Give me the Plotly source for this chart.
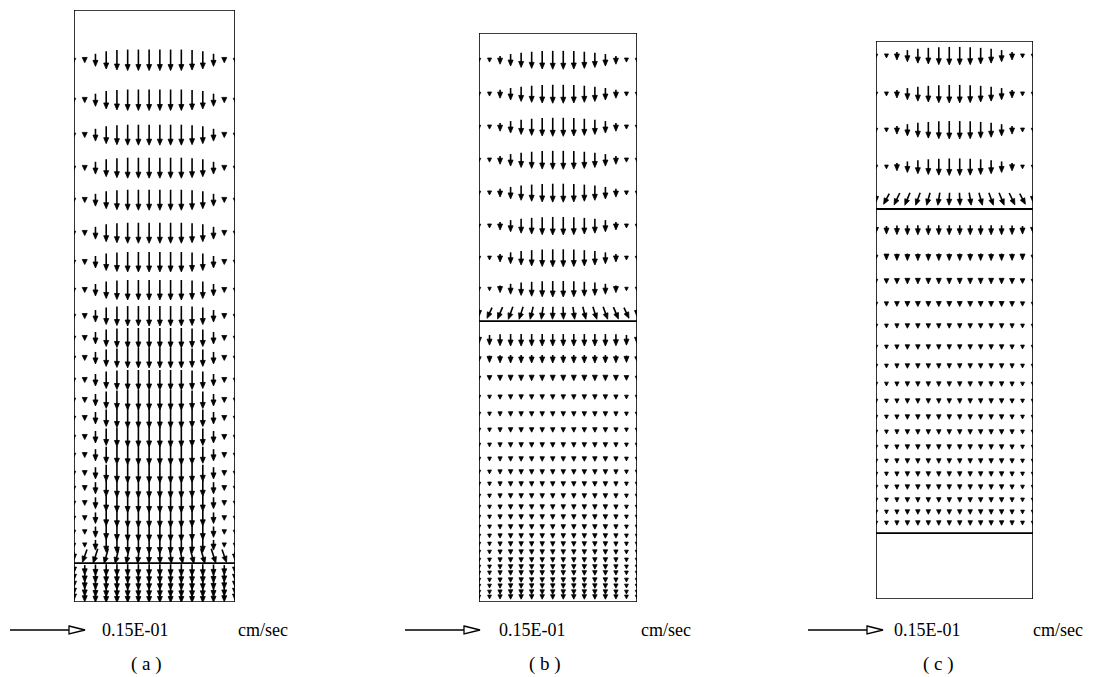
import math
import plotly.graph_objects as go

# ---------------- data ----------------
REF_SPEED = 0.015          # cm/sec of the reference arrow
REF_LABEL = "0.15E-01"
UNIT_LABEL = "cm/sec"
PANEL_LABELS = ["( a )", "( b )", "( c )"]

# relative vertical speed across the 16 grid columns (wall, 14 interior, wall)
PROFILE_A = [0.15, 0.25, 0.6, 0.85, 0.95, 1.0, 1.0, 1.0, 1.0, 1.0, 1.0, 0.95, 0.85, 0.6, 0.25, 0.15]
PROFILE_BC = [0.15, 0.22, 0.45, 0.65, 0.8, 0.9, 0.97, 1.0, 1.0, 0.97, 0.9, 0.8, 0.65, 0.45, 0.22, 0.15]
PROFILE_FLAT = [0.55, 0.85, 0.95, 1.0, 1.0, 1.0, 1.0, 1.0, 1.0, 1.0, 1.0, 1.0, 1.0, 0.95, 0.85, 0.55]
# outward horizontal component used in the rows just above an interface
TILT_SHAPE = [0.0, -1.0, -1.0, -0.9, -0.8, -0.6, -0.35, -0.1, 0.1, 0.35, 0.6, 0.8, 0.9, 1.0, 1.0, 0.0]

# panel (a): heights in box-width units, centre speed (cm/s), tilt, profile
A_ROW_Y = [3.366, 3.118, 2.901, 2.696, 2.497, 2.292, 2.112, 1.938, 1.776, 1.640, 1.516, 1.379,
           1.255, 1.143, 1.025, 0.913, 0.801, 0.708, 0.615, 0.522, 0.435, 0.354, 0.286,
           0.199, 0.155, 0.112, 0.068, 0.031]
A_ROW_W = [0.0042, 0.0042, 0.0041, 0.0041, 0.0041, 0.0041, 0.0040, 0.0040, 0.0040, 0.0040, 0.0040, 0.0040,
           0.0040, 0.0040, 0.0040, 0.0039, 0.0039, 0.0039, 0.0038, 0.0037, 0.0036, 0.0034, 0.0030,
           0.0023, 0.0023, 0.0023, 0.0023, 0.0022]
A_ROW_TILT = [0, 0, 0, 0, 0, 0, 0, 0, 0, 0, 0, 0, 0, 0, 0, 0, 0, 0, 0, 0, 0, 0, 0.3,
              0, 0, 0, 0, 0]
A_ROW_PROF = ["a", "a", "a", "a", "a", "a", "a", "a", "a", "a", "a", "a", "a", "a", "a", "a", "a", "a",
              "a", "a", "a", "a", "flat", "flat", "flat", "flat", "flat", "flat"]
A_INTERFACES = [0.242]

# panel (b)
B_ROW_Y = [3.430, 3.215, 3.006, 2.797, 2.589, 2.380, 2.177, 1.981, 1.829,
           1.658, 1.538, 1.418, 1.297, 1.190, 1.089, 0.994, 0.905, 0.823, 0.747, 0.671, 0.601,
           0.538, 0.475, 0.418, 0.367, 0.316, 0.266, 0.222, 0.184, 0.139, 0.101, 0.063, 0.032]
B_ROW_W = [0.0037, 0.0037, 0.0037, 0.0037, 0.0037, 0.0036, 0.0035, 0.0032, 0.0025,
           0.0024, 0.0016, 0.0011, 0.0009, 0.0009, 0.0009, 0.0009, 0.0009, 0.0009, 0.0009, 0.0009, 0.0009,
           0.0009, 0.0009, 0.0009, 0.0009, 0.0009, 0.0009, 0.0009, 0.0009, 0.0009, 0.0009, 0.0009, 0.0009]
B_ROW_TILT = [0, 0, 0, 0, 0, 0, 0, 0, 0.4,
              0, 0, 0, 0, 0, 0, 0, 0, 0, 0, 0, 0, 0, 0, 0, 0, 0, 0, 0, 0, 0, 0, 0, 0]
B_ROW_PROF = ["bc", "bc", "bc", "bc", "bc", "bc", "bc", "bc", "flat",
              "flat", "flat", "flat", "flat", "flat", "flat", "flat", "flat", "flat", "flat", "flat", "flat",
              "flat", "flat", "flat", "flat", "flat", "flat", "flat", "flat", "flat", "flat", "flat", "flat"]
B_INTERFACES = [1.778]

# panel (c)
C_ROW_Y = [3.459, 3.217, 2.987, 2.752, 2.548,
           2.350, 2.178, 2.025, 1.879, 1.739, 1.605, 1.484, 1.369, 1.261, 1.159, 1.064, 0.968,
           0.879, 0.796, 0.713, 0.631, 0.554, 0.484]
C_ROW_W = [0.0036, 0.0036, 0.0036, 0.0034, 0.0025,
           0.0019, 0.0014, 0.0011, 0.0010, 0.0009, 0.0009, 0.0009, 0.0009, 0.0009, 0.0009, 0.0009, 0.0009,
           0.0009, 0.0009, 0.0009, 0.0009, 0.0009, 0.0009]
C_ROW_TILT = [0, 0, 0, 0, 0.45,
              0, 0, 0, 0, 0, 0, 0, 0, 0, 0, 0, 0, 0, 0, 0, 0, 0, 0]
C_ROW_PROF = ["bc", "bc", "bc", "bc", "flat",
              "flat", "flat", "flat", "flat", "flat", "flat", "flat", "flat", "flat", "flat", "flat", "flat",
              "flat", "flat", "flat", "flat", "flat", "flat"]
C_INTERFACES = [2.484, 0.420]

PROFILES = {"a": PROFILE_A, "bc": PROFILE_BC, "flat": PROFILE_FLAT}

# ---------------- layout / style ----------------
PAGE_W, PAGE_H = 1098, 677
BODY_MARGIN = 8                        # default page margin around the plot div
FIG_W, FIG_H = PAGE_W - BODY_MARGIN, PAGE_H - BODY_MARGIN
SCALE_PX = 5000.0                      # pixels per cm/s
PANEL_BOX_PX = [(74, 235, 10, 602), (479, 637, 33, 602), (876, 1033, 41, 599)]
LEGEND_X0 = [10, 405, 808]
LEGEND_Y = 630
REF_TEXT_X = [100, 497, 892]
UNIT_TEXT_X = [236, 639, 1031]
LABEL_X = [146, 545, 938]
LABEL_Y = 664
FONT = "Liberation Serif"


def fx(px):
    return (px - BODY_MARGIN) / FIG_W


def fy(py):
    return 1 - (py - BODY_MARGIN) / FIG_H


panels = [
    (A_ROW_Y, A_ROW_W, A_ROW_TILT, A_ROW_PROF, A_INTERFACES),
    (B_ROW_Y, B_ROW_W, B_ROW_TILT, B_ROW_PROF, B_INTERFACES),
    (C_ROW_Y, C_ROW_W, C_ROW_TILT, C_ROW_PROF, C_INTERFACES),
]

fig = go.Figure()
shapes = []
annotations = []
layout_axes = {}

for k, ((row_y, row_w, row_tilt, row_prof, interfaces), box) in enumerate(zip(panels, PANEL_BOX_PX)):
    left, right, top, bottom = box
    s = float(right - left)            # pixels per data unit
    H = (bottom - top) / s
    xa = "x" if k == 0 else f"x{k+1}"
    ya = "y" if k == 0 else f"y{k+1}"
    n = len(PROFILE_A)

    sx, sy, hx, hy = [], [], [], []
    for y, w, tilt, pk in zip(row_y, row_w, row_tilt, row_prof):
        prof = PROFILES[pk]
        for j in range(n):
            x = j / (n - 1)
            v = -w * prof[j]
            u = tilt * w * TILT_SHAPE[j]
            spd = math.hypot(u, v)
            dx, dy = u / spd, v / spd
            L_px = max(spd * SCALE_PX, 3.5)
            hl_px = min(6.0, L_px)
            hw_px = 2.5 if hl_px >= 5 else 0.5 * hl_px
            L = L_px / s
            hl = hl_px / s
            hw = hw_px / s
            tipx, tipy = x + dx * L / 2, y + dy * L / 2
            tailx, taily = x - dx * L / 2, y - dy * L / 2
            bx, by = tipx - dx * hl, tipy - dy * hl
            px_, py_ = -dy, dx
            hx += [tipx, bx + px_ * hw, bx - px_ * hw, tipx, None]
            hy += [tipy, by + py_ * hw, by - py_ * hw, tipy, None]
            if L_px > hl_px + 0.5:
                ex, ey = tipx - dx * hl * 0.6, tipy - dy * hl * 0.6
                sx += [tailx, ex, None]
                sy += [taily, ey, None]

    fig.add_trace(go.Scatter(x=sx, y=sy, mode="lines", xaxis=xa, yaxis=ya,
                             line=dict(color="black", width=1.6), hoverinfo="skip",
                             showlegend=False))
    fig.add_trace(go.Scatter(x=hx, y=hy, mode="lines", fill="toself", fillcolor="black",
                             xaxis=xa, yaxis=ya, line=dict(color="black", width=0.8),
                             hoverinfo="skip", showlegend=False))

    # box and interfaces
    shapes.append(dict(type="rect", xref=xa, yref=ya, x0=0, x1=1, y0=0, y1=H,
                       line=dict(color="black", width=1.6)))
    for yi in interfaces:
        shapes.append(dict(type="line", xref=xa, yref=ya, x0=0, x1=1, y0=yi, y1=yi,
                           line=dict(color="black", width=1.8)))

    axname = "xaxis" if k == 0 else f"xaxis{k+1}"
    ayname = "yaxis" if k == 0 else f"yaxis{k+1}"
    layout_axes[axname] = dict(domain=[fx(left), fx(right)], range=[0, 1],
                               visible=False, fixedrange=True)
    layout_axes[ayname] = dict(domain=[fy(bottom), fy(top)], range=[0, H],
                               visible=False, fixedrange=True)

    # reference arrow (length from the same speed scale)
    Lref = REF_SPEED * SCALE_PX
    x0 = LEGEND_X0[k]
    xtip = x0 + Lref
    xbase = xtip - 16
    yc = fy(LEGEND_Y)
    hh = 4.0 / FIG_H
    shapes.append(dict(type="line", xref="paper", yref="paper",
                       x0=fx(x0), x1=fx(xbase), y0=yc, y1=yc,
                       line=dict(color="black", width=1.3)))
    shapes.append(dict(type="path", xref="paper", yref="paper",
                       path=f"M {fx(xbase)},{yc + hh} L {fx(xtip)},{yc} L {fx(xbase)},{yc - hh} Z",
                       line=dict(color="black", width=1.3), fillcolor="white"))
    annotations.append(dict(text=REF_LABEL, xref="paper", yref="paper",
                            x=fx(REF_TEXT_X[k]), y=yc, xanchor="left", yanchor="middle",
                            showarrow=False, font=dict(family=FONT, size=18, color="black")))
    annotations.append(dict(text=UNIT_LABEL, xref="paper", yref="paper",
                            x=fx(UNIT_TEXT_X[k]), y=yc, xanchor="left", yanchor="middle",
                            showarrow=False, font=dict(family=FONT, size=18, color="black")))
    annotations.append(dict(text=PANEL_LABELS[k], xref="paper", yref="paper",
                            x=fx(LABEL_X[k]), y=fy(LABEL_Y), xanchor="center",
                            yanchor="middle", showarrow=False,
                            font=dict(family=FONT, size=19, color="black")))

fig.update_layout(
    width=FIG_W, height=FIG_H, autosize=False,
    margin=dict(l=0, r=0, t=0, b=0, pad=0),
    paper_bgcolor="white", plot_bgcolor="white",
    shapes=shapes, annotations=annotations, showlegend=False,
    **layout_axes,
)

fig.write_html("out.html")
